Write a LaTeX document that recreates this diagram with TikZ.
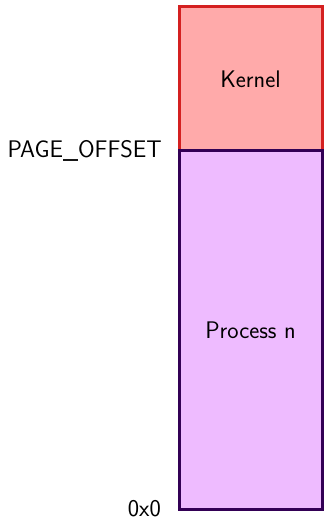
\documentclass[tikz,border=0pt]{standalone}
\usetikzlibrary{positioning}
\definecolor{kernelfill}{HTML}{FFAAAA}
\definecolor{kerneldraw}{HTML}{D42020}
\definecolor{procfill}{HTML}{EEBBFF}
\definecolor{procdraw}{HTML}{330055}
\begin{document}
\begin{tikzpicture}[x=1pt, y=1pt, font=\sffamily\fontsize{24}{29}\selectfont]
        \useasboundingbox (0, 0) rectangle (324, 519);
        \node[draw=kerneldraw, fill=kernelfill, line width=3pt, minimum width=143pt, minimum height=144pt, inner sep=0pt, outer sep=0pt] (kernel) at (250.5, 440) {Kernel};
        \node[draw=procdraw, fill=procfill, line width=3pt, minimum width=143pt, minimum height=358.5pt, inner sep=0pt, outer sep=0pt, below=0pt of kernel] (proc) {Process n};
        \node[left=17pt of kernel.south west, inner sep=0pt] (pageoffset) {PAGE\_OFFSET};
        \node[left=18pt of proc.south west, inner sep=0pt, yshift=0.5pt] (zero) {0x0};
    \end{tikzpicture}
\end{document}
